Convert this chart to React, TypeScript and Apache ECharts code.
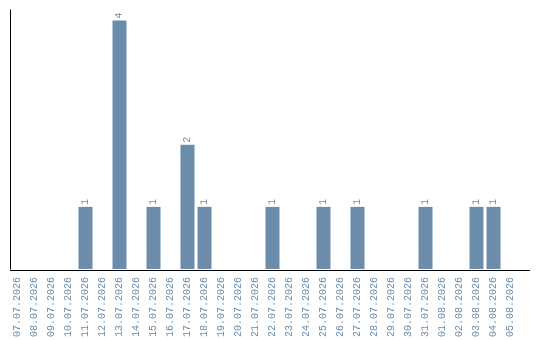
import React, { useEffect, useRef } from "react";
import * as echarts from "echarts";

const dates = [
  "07.07.2026", "08.07.2026", "09.07.2026", "10.07.2026", "11.07.2026",
  "12.07.2026", "13.07.2026", "14.07.2026", "15.07.2026", "16.07.2026",
  "17.07.2026", "18.07.2026", "19.07.2026", "20.07.2026", "21.07.2026",
  "22.07.2026", "23.07.2026", "24.07.2026", "25.07.2026", "26.07.2026",
  "27.07.2026", "28.07.2026", "29.07.2026", "30.07.2026", "31.07.2026",
  "01.08.2026", "02.08.2026", "03.08.2026", "04.08.2026", "05.08.2026",
];

const counts = [
  0, 0, 0, 0, 1,
  0, 4, 0, 1, 0,
  2, 1, 0, 0, 0,
  1, 0, 0, 1, 0,
  1, 0, 0, 0, 1,
  0, 0, 1, 1, 0,
];

const BAR = "#6b8cab";
const TEXT = "#6b8cab";
const FONT = "Liberation Mono";

export default function App() {
  const ref = useRef<HTMLDivElement>(null);

  useEffect(() => {
    if (!ref.current) return;
    const chart = echarts.init(ref.current, null, { renderer: "svg" });
    chart.setOption({
      animation: false,
      grid: { left: 9, right: 21, top: 10, bottom: 70 },
      xAxis: {
        type: "category",
        data: dates,
        axisLine: { show: false },
        axisTick: { show: false },
        axisLabel: {
          rotate: 90,
          interval: 0,
          color: TEXT,
          fontFamily: FONT,
          fontSize: 10,
          margin: 8,
        },
      },
      yAxis: {
        type: "value",
        min: 0,
        max: 4.17,
        offset: -1.5,
        axisLine: { show: true, lineStyle: { color: "#000", width: 1 } },
        axisTick: { show: false },
        axisLabel: { show: false },
        splitLine: { show: false },
      },
      // baseline runs a little past the last category
      graphic: [
        {
          type: "line",
          shape: { x1: 10, y1: 270.5, x2: 530, y2: 270.5 },
          style: { stroke: "#000", lineWidth: 1 },
          silent: true,
        },
      ],
      series: [
        {
          type: "bar",
          data: counts.map((v) => (v === 0 ? null : v)),
          barWidth: 14,
          itemStyle: { color: BAR },
          label: {
            show: true,
            position: "top",
            rotate: 90,
            align: "left",
            verticalAlign: "middle",
            distance: 2,
            color: TEXT,
            fontFamily: FONT,
            fontSize: 10,
          },
        },
      ],
    });
    return () => chart.dispose();
  }, []);

  return (
    <div
      ref={ref}
      style={{ position: "fixed", left: 0, top: 0, width: 540, height: 340 }}
    />
  );
}
